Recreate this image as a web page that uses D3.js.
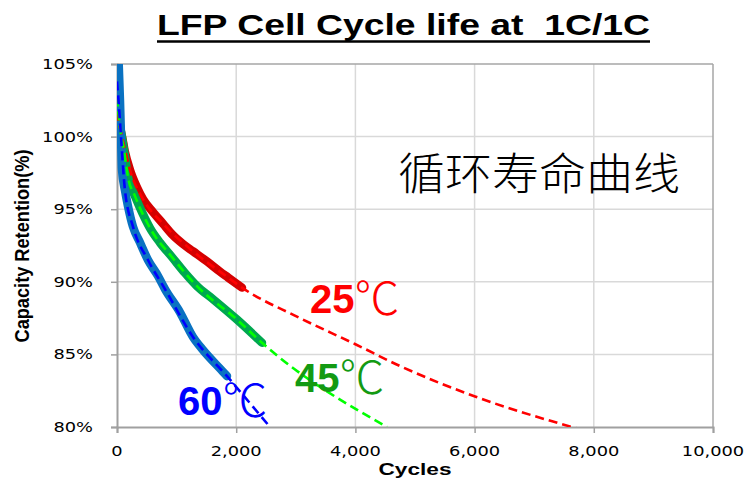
<!DOCTYPE html>
<html><head><meta charset="utf-8">
<script src="https://cdn.jsdelivr.net/npm/d3@7"></script>
<style>html,body{margin:0;padding:0;background:#fff;}</style>
</head><body>
<svg id="c" width="748" height="480"></svg>
<script>
// ---- data ----
const xTicks = [0, 2000, 4000, 6000, 8000, 10000];
const yTicks = [80, 85, 90, 95, 100, 105];

// measured (thick) curves
const cycles25 = [30, 84, 130, 218, 336, 436, 604, 772, 940, 1107, 1275, 1510, 1728, 1862, 2097];
const ret25    = [100.9, 100.0, 99.0, 97.7, 96.5, 95.7, 94.8, 94.0, 93.2, 92.6, 92.1, 91.4, 90.7, 90.3, 89.6];
const cycles45 = [30, 117, 185, 302, 419, 554, 721, 923, 1141, 1342, 1611, 2013, 2433];
const ret45    = [101.3, 99.1, 97.2, 95.9, 94.8, 93.7, 92.7, 91.7, 90.6, 89.7, 88.8, 87.4, 85.8];
const cycles60 = [20, 50, 67, 84, 134, 185, 268, 386, 520, 688, 805, 1057, 1275, 1443, 1779, 1846];
const ret60    = [106, 102.5, 100.0, 97.7, 96.3, 95.2, 93.8, 92.7, 91.5, 90.4, 89.5, 87.9, 86.2, 85.3, 83.8, 83.5];

// fitted / extrapolated (dashed) curves
const fitCycles25 = [0, 50, 84, 218, 436, 772, 1275, 1862, 2097, 3020, 4000, 4748, 6007, 7718];
const fitRet25    = [101.7, 100.6, 100.0, 97.7, 95.7, 94.0, 92.1, 90.3, 89.6, 87.6, 85.7, 84.2, 82.1, 79.9];
const fitCycles45 = [0, 50, 117, 185, 302, 554, 923, 1342, 2013, 2433, 4530];
const fitRet45    = [102.7, 100.6, 99.1, 97.2, 95.9, 93.7, 91.7, 89.7, 87.4, 85.8, 80.0];
const fitCycles60 = [0, 34, 67, 134, 268, 520, 805, 1275, 1846, 2567];
const fitRet60    = [103.8, 102.0, 100.0, 96.3, 93.8, 91.5, 89.5, 86.2, 83.5, 80.0];

const labels = ["25", "45", "60"];
const title = "LFP Cell Cycle life at  1C/1C";
const noteText = "循环寿命曲线";
const xTitle = "Cycles";
const yTitle = "Capacity Retention(%)";

// ---- drawing ----
const svg = d3.select("#c");
const L = 117, R = 713, T = 64, B = 427;
const x = d3.scaleLinear().domain([0, 10000]).range([L, R]);
const y = d3.scaleLinear().domain([80, 105]).range([B, T]);

svg.append("defs").append("clipPath").attr("id", "clip")
  .append("rect").attr("x", L).attr("y", T).attr("width", R - L).attr("height", B - T);

// gridlines
const grid = svg.append("g");
grid.selectAll(".vg").data(xTicks.slice(1, -1)).join("line")
  .attr("x1", d => x(d)).attr("x2", d => x(d)).attr("y1", T).attr("y2", B)
  .attr("stroke", "#d9d9d9").attr("stroke-width", 1.5);
grid.selectAll(".hg").data(yTicks.slice(1, -1)).join("line")
  .attr("y1", d => y(d)).attr("y2", d => y(d)).attr("x1", L).attr("x2", R)
  .attr("stroke", "#d9d9d9").attr("stroke-width", 1.5);

// border (top, right)
svg.append("line").attr("x1", L).attr("x2", R).attr("y1", T).attr("y2", T).attr("stroke", "#a6a6a6").attr("stroke-width", 1.5);
svg.append("line").attr("x1", R).attr("x2", R).attr("y1", T).attr("y2", B).attr("stroke", "#a6a6a6").attr("stroke-width", 1.5);

// axes
const xAxis = svg.append("g").attr("transform", `translate(0,${B})`)
  .call(d3.axisBottom(x).tickValues(xTicks).tickSize(6).tickFormat(""));
const yAxis = svg.append("g").attr("transform", `translate(${L},0)`)
  .call(d3.axisLeft(y).tickValues(yTicks).tickSize(6).tickFormat(""));
[xAxis, yAxis].forEach(a => {
  a.select(".domain").attr("stroke", "#a0a0a0").attr("stroke-width", 2);
  a.selectAll(".tick line").attr("stroke", "#a0a0a0").attr("stroke-width", 1.5);
});

// tick labels
const fmt = d3.format(",");
svg.selectAll(".xl").data(xTicks).join("text")
  .attr("transform", d => `translate(${x(d)},456) scale(1.32,1)`)
  .attr("text-anchor", "middle")
  .style("font-family", "'DejaVu Sans', Verdana, sans-serif").style("font-size", "13.5px").attr("fill", "#000")
  .text(d => fmt(d));
svg.selectAll(".yl").data(yTicks).join("text")
  .attr("transform", d => `translate(93,${y(d) + 5}) scale(1.32,1)`)
  .attr("text-anchor", "end")
  .style("font-family", "'DejaVu Sans', Verdana, sans-serif").style("font-size", "13.5px").attr("fill", "#000")
  .text(d => d + "%");

// axis titles
svg.append("text").attr("x", 415).attr("y", 475).attr("text-anchor", "middle")
  .style("font-family", "'Liberation Sans Narrow','Liberation Sans',Arial,sans-serif").style("font-weight", "bold").style("font-size", "17px")
  .attr("textLength", 73).attr("lengthAdjust", "spacingAndGlyphs").text(xTitle);
svg.append("text").attr("transform", "translate(29,246) scale(1.3,1) rotate(-90)")
  .attr("text-anchor", "middle")
  .style("font-family", "'Liberation Sans Narrow','Liberation Sans',Arial,sans-serif").style("font-weight", "bold").style("font-size", "16px")
  .attr("textLength", 193).attr("lengthAdjust", "spacingAndGlyphs").text(yTitle);

// title
svg.append("text").attr("x", 403.5).attr("y", 35).attr("text-anchor", "middle")
  .style("font-family", "'Liberation Sans',Arial,sans-serif").style("font-weight", "bold").style("font-size", "30px")
  .attr("textLength", 493).attr("lengthAdjust", "spacingAndGlyphs")
  .style("white-space", "pre").attr("xml:space", "preserve").text(title);
svg.append("line").attr("x1", 157).attr("x2", 650).attr("y1", 41.5).attr("y2", 41.5).attr("stroke", "#000").attr("stroke-width", 2.5);

// note text
svg.append("text").attr("x", 398).attr("y", 190)
  .style("font-family", "'Noto Sans CJK SC',sans-serif").style("font-weight", "300").style("font-size", "44px")
  .attr("textLength", 282).attr("lengthAdjust", "spacingAndGlyphs").attr("fill", "#000").text(noteText);

// curves
const line = d3.line().x(d => x(d[0])).y(d => y(d[1])).curve(d3.curveMonotoneX);
const zip = (a, b) => a.map((v, i) => [v, b[i]]);
const plot = svg.append("g").attr("clip-path", "url(#clip)");

const thick = [
  {c: cycles25, r: ret25, col: "#d40000"},
  {c: cycles45, r: ret45, col: "#00a84f"},
  {c: cycles60, r: ret60, col: "#0a72c2"}
];
thick.forEach(s => {
  plot.append("path").attr("d", line(zip(s.c, s.r))).attr("fill", "none")
    .attr("stroke", s.col).attr("stroke-width", 8.5).attr("stroke-linecap", "round").attr("stroke-linejoin", "round");
});
const dashed = [
  {c: fitCycles25, r: fitRet25, col: "#ff0000"},
  {c: fitCycles45, r: fitRet45, col: "#00ff00"},
  {c: fitCycles60, r: fitRet60, col: "#0000ff"}
];
dashed.forEach(s => {
  plot.append("path").attr("d", line(zip(s.c, s.r))).attr("fill", "none")
    .attr("stroke", s.col).attr("stroke-width", 2.6).attr("stroke-dasharray", "9,5");
});

// series labels
const labelPos = [
  {t: labels[0], xx: 310, yy: 313, col: "#ff0000"},
  {t: labels[1], xx: 295, yy: 392, col: "#139a13"},
  {t: labels[2], xx: 178, yy: 415, col: "#0000ff"}
];
labelPos.forEach(p => {
  const t = svg.append("text").attr("x", p.xx).attr("y", p.yy).attr("fill", p.col);
  t.append("tspan").style("font-family", "'Liberation Sans',Arial,sans-serif").style("font-weight", "bold").style("font-size", "40px").text(p.t);
  t.append("tspan").attr("dy", 2).style("font-family", "'Noto Sans CJK SC',sans-serif").style("font-weight", "300").style("font-size", "45px").text("℃");
});
</script>
</body></html>
